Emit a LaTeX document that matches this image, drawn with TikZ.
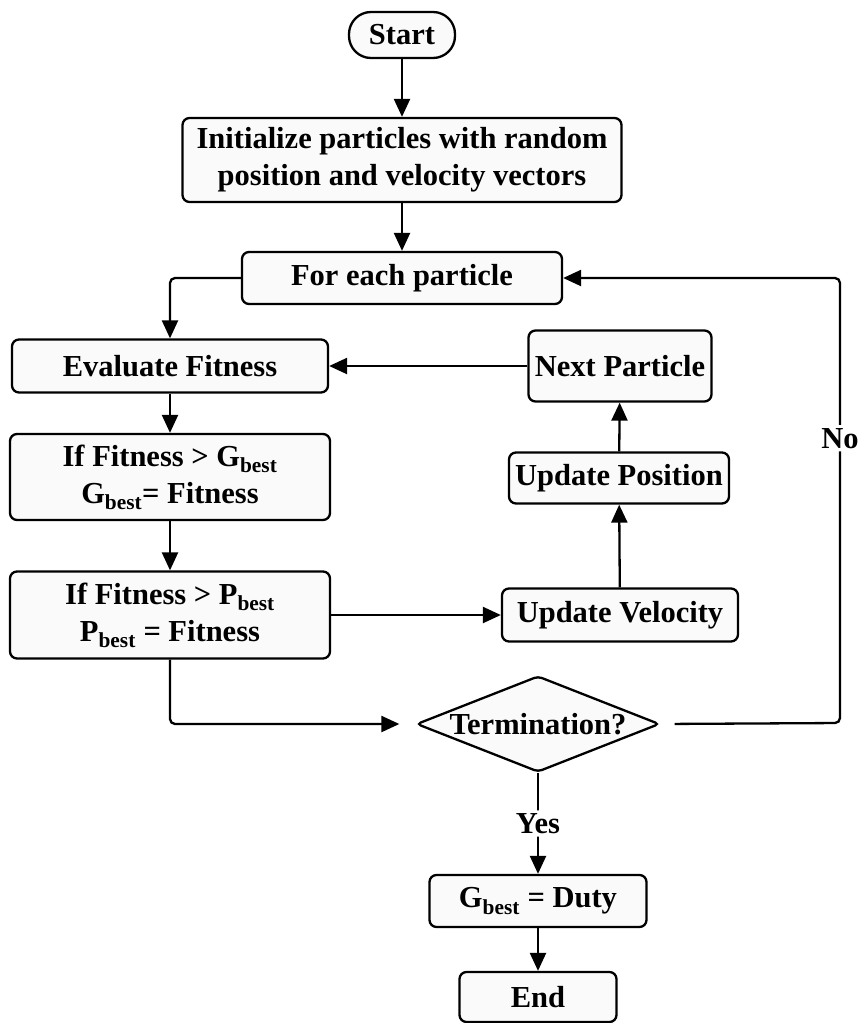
\documentclass[tikz,border=0pt]{standalone}
\usepackage{fontspec}
\setmainfont{Liberation Serif}
\usepackage{tikz}
\usetikzlibrary{arrows.meta,shapes.geometric}
\newcommand{\bsub}{\textsubscript{best}}

\begin{document}
\begin{tikzpicture}[x=1pt,y=-1pt,
    line width=2.3pt,
    box/.style={draw,rounded corners=7pt,fill=gray!4,align=center,inner sep=0pt,
        font=\fontsize{30.5}{37}\selectfont\bfseries},
    lbl/.style={fill=white,inner sep=3pt,font=\fontsize{30.5}{37}\selectfont\bfseries},
    arr/.style={-{Triangle[length=18pt,width=16pt]},rounded corners=5pt}]
    \useasboundingbox (0,0) rectangle (859,1023);
    % main column
    \node[box,rounded corners=22pt,minimum width=106pt,minimum height=46pt] (start) at (402,35) {Start};
    \node[box,minimum width=439pt,minimum height=84pt] (init) at (402,160)
        {Initialize particles with random\\position and velocity vectors};
    \node[box,minimum width=320pt,minimum height=52pt] (each) at (402,278) {For each particle};
    % left column
    \node[box,minimum width=316pt,minimum height=53pt] (eval) at (170,366) {Evaluate Fitness};
    \node[box,minimum width=320pt,minimum height=86pt] (ifg) at (170,477)
        {If Fitness \textgreater{} G\bsub\\G\bsub= Fitness};
    \node[box,minimum width=320pt,minimum height=87pt] (ifp) at (170,615)
        {If Fitness \textgreater{} P\bsub\\P\bsub{} = Fitness};
    % right column
    \node[box,minimum width=183pt,minimum height=71pt] (next) at (620,366) {Next Particle};
    \node[box,minimum width=220pt,minimum height=51pt] (pos) at (619,478) {Update Position};
    \node[box,minimum width=236pt,minimum height=53pt] (vel) at (620,615) {Update Velocity};
    % decision and end
    \node[box,shape=diamond,aspect=2.5,rounded corners=4pt,minimum width=243pt,minimum height=96pt]
        (term) at (538,724) {Termination?};
    \node[box,minimum width=217pt,minimum height=52pt] (duty) at (538,901) {G\bsub{} = Duty};
    \node[box,minimum width=157pt,minimum height=50pt] (end) at (538,997) {End};
    \coordinate (noturn) at (840,723);

    \draw[arr] (start) -- (init);
    \draw[arr] (init) -- (each);
    \draw[arr] (each.west) -| (eval.north);
    \draw[arr] (eval) -- (ifg);
    \draw[arr] (ifg) -- (ifp);
    \draw[arr] (ifp.east) -- (vel.west);
    \draw[arr] (vel) -- (pos);
    \draw[arr] (pos) -- (next);
    \draw[arr] (next.west) -- (eval.east);
    \draw[arr,shorten >=16pt] (ifp.south) |- (term.west);
    \draw[arr] (term.south) -- node[lbl]{Yes} (duty.north);
    \draw[arr,shorten <=14pt] (term.east) -- (noturn) |- node[lbl,pos=0.32]{No} (each.east);
    \draw[arr] (duty) -- (end);
\end{tikzpicture}
\end{document}
